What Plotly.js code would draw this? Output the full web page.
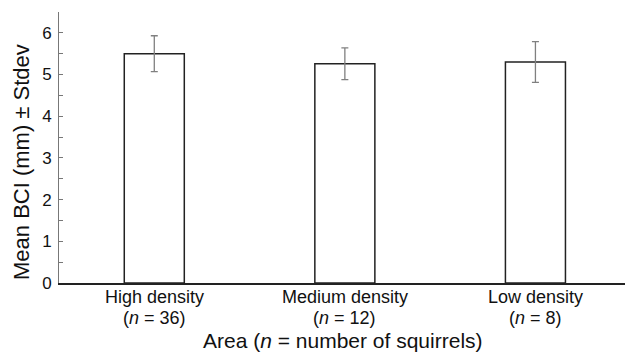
<!DOCTYPE html>
<html>
<head>
<meta charset="utf-8">
<script src="https://cdn.plot.ly/plotly-3.0.1.min.js"></script>
<style>html,body{margin:0;padding:0;background:#fff;}#chart{width:625px;height:357px;}</style>
</head>
<body>
<div id="chart"></div>
<script>
const categories = ["High density", "Medium density", "Low density"];
const sampleSizes = [36, 12, 8];
const meanBCI = [5.50, 5.26, 5.30];
const stdev = [0.43, 0.38, 0.49];
const nLabels = sampleSizes.map(n => "(<i>n</i> = " + n + ")");

const W = 625, H = 357;
const margin = {l: 59, r: 0, t: 12, b: 74};
const pw = W - margin.l - margin.r, ph = H - margin.t - margin.b;
const px2x = px => (px - margin.l) / pw;
const py2y = py => (H - margin.b - py) / ph;

const trace = {
  type: 'bar',
  x: [0, 1, 2],
  y: meanBCI,
  width: 0.315,
  marker: {color: '#ffffff', line: {color: '#222222', width: 1.5}},
  error_y: {type: 'data', array: stdev, visible: true, color: '#808080', thickness: 1.3, width: 3.5},
  hoverinfo: 'none'
};

const font = 'Liberation Sans, Arial, Helvetica, sans-serif';
const labelFont = {size: 18, family: font, color: '#111111'};
const annotations = [
  {xref: 'paper', yref: 'paper', x: px2x(21), y: py2y(162), xanchor: 'center', yanchor: 'middle',
   text: 'Mean BCI (mm) ± Stdev', textangle: -90, showarrow: false, borderpad: 0,
   font: {size: 22, family: font, color: '#111111'}},
  {xref: 'paper', yref: 'paper', x: px2x(343), y: py2y(340.5), xanchor: 'center', yanchor: 'middle',
   text: 'Area (<i>n</i> = number of squirrels)', showarrow: false, borderpad: 0,
   font: {size: 21, family: font, color: '#111111'}}
];
categories.forEach((c, i) => {
  annotations.push({xref: 'x', yref: 'paper', x: i, y: py2y(297), xanchor: 'center', yanchor: 'middle',
    text: c, showarrow: false, borderpad: 0, font: labelFont});
  annotations.push({xref: 'x', yref: 'paper', x: i, y: py2y(317.5), xanchor: 'center', yanchor: 'middle',
    text: nLabels[i], showarrow: false, borderpad: 0, font: labelFont});
});

const layout = {
  width: W, height: H,
  margin: margin,
  paper_bgcolor: '#ffffff', plot_bgcolor: '#ffffff',
  showlegend: false,
  font: {family: font, color: '#111111'},
  xaxis: {
    range: [-0.5, 2.47],
    tickmode: 'array', tickvals: [0, 1, 2], showticklabels: false,
    showline: true, linecolor: '#222222', linewidth: 2,
    ticks: '', showgrid: false, zeroline: false, fixedrange: true
  },
  yaxis: {
    range: [0, 6.5],
    tick0: 0, dtick: 1,
    tickfont: {size: 17, family: font, color: '#111111'},
    ticklabelstandoff: 3,
    showline: true, linecolor: '#777777', linewidth: 1,
    ticks: 'inside', ticklen: 4, tickcolor: '#777777', tickwidth: 1,
    minor: {dtick: 0.5, ticks: 'inside', ticklen: 4, tickcolor: '#777777', tickwidth: 1, showgrid: false},
    showgrid: false, zeroline: false, fixedrange: true
  },
  annotations: annotations
};

Plotly.newPlot('chart', [trace], layout, {displayModeBar: false, staticPlot: true});
</script>
</body>
</html>
